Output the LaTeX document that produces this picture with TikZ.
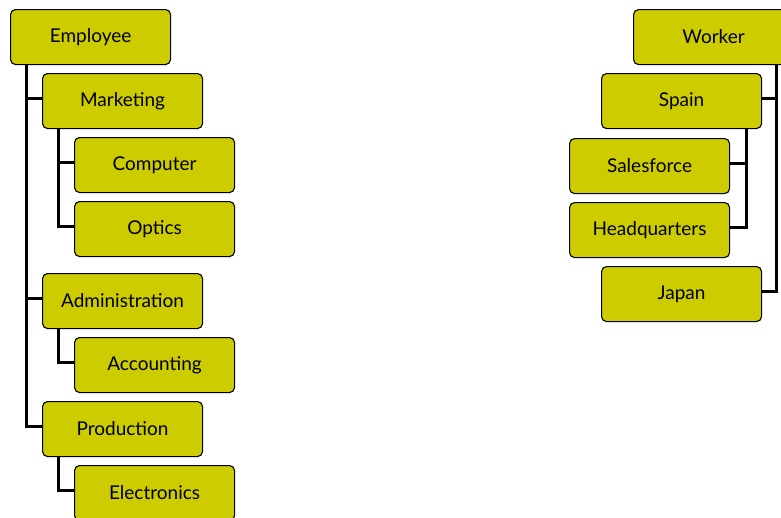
\documentclass[tikz,border=0pt]{standalone}
\usepackage{fontspec}
\setmainfont{Lato}
\usetikzlibrary{calc}
\definecolor{boxfill}{RGB}{204,204,0}
\tikzset{
  box/.style={draw=black, line width=1.1pt, fill=boxfill, rounded corners=5pt,
    minimum width=160pt, minimum height=55pt, inner sep=0pt,
    font=\fontsize{19}{22}\selectfont, anchor=north west},
  conn/.style={draw=black, line width=3pt}
}
\begin{document}
\begin{tikzpicture}[x=1pt,y=-1pt]
\useasboundingbox (0,0) rectangle (781,517);
% left tree
\node[box] (emp) at (10,9) {Employee};
\node[box] (mkt) at (42,73) {Marketing};
\node[box] (cmp) at (74,137) {Computer};
\node[box] (opt) at (74,201) {Optics};
\node[box] (adm) at (42,273) {Administration};
\node[box] (acc) at (74,337) {Accounting};
\node[box] (prd) at (42,401) {Production};
\node[box] (ele) at (74,465) {Electronics};
% right tree
\node[box] (wrk) at (633,9) {Worker};
\node[box] (spn) at (601,73) {Spain};
\node[box] (sal) at (569,138) {Salesforce};
\node[box] (hq) at (569,202) {Headquarters};
\node[box] (jap) at (601,266) {Japan};
% connectors
\coordinate (empx) at ($(emp.south west)+(16,0)$);
\coordinate (mktx) at ($(mkt.south west)+(16,0)$);
\coordinate (admx) at ($(adm.south west)+(16,0)$);
\coordinate (prdx) at ($(prd.south west)+(16,0)$);
\coordinate (wrkx) at ($(wrk.south east)+(-18,0)$);
\coordinate (spnx) at ($(spn.south east)+(-16,0)$);
\draw[conn] (empx) |- ([yshift=3pt]mkt.west);
\draw[conn] (empx) |- ([yshift=3pt]adm.west);
\draw[conn] (empx) |- ([yshift=3pt]prd.west);
\draw[conn] (mktx) |- ([yshift=3pt]cmp.west);
\draw[conn] (mktx) |- ([yshift=3pt]opt.west);
\draw[conn] (admx) |- ([yshift=3pt]acc.west);
\draw[conn] (prdx) |- ([yshift=3pt]ele.west);
\draw[conn] (wrkx) |- ([yshift=3pt]spn.east);
\draw[conn] (wrkx) |- ([yshift=3pt]jap.east);
\draw[conn] (spnx) |- ([yshift=3pt]sal.east);
\draw[conn] (spnx) |- ([yshift=3pt]hq.east);
\end{tikzpicture}
\end{document}
